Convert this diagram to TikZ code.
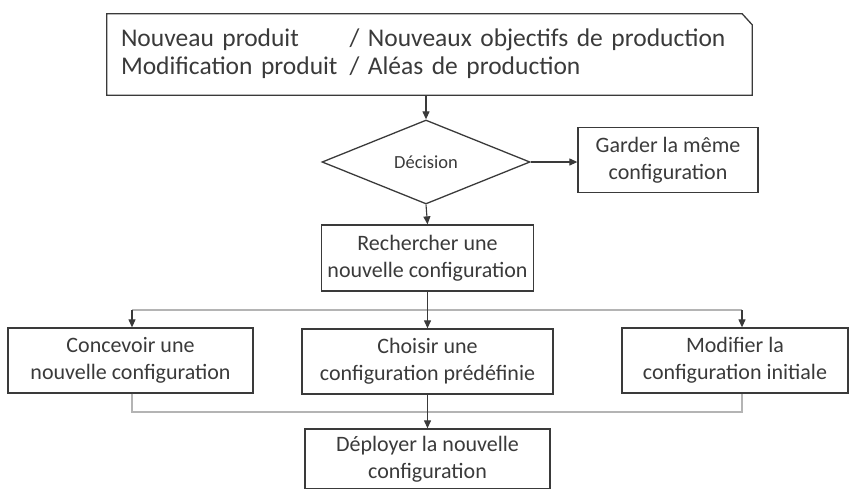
\documentclass[tikz,border=0pt]{standalone}
\usepackage{fontspec}
\setmainfont{Carlito}
\usepackage{xcolor}
\usetikzlibrary{calc,shapes.geometric,arrows.meta}

\definecolor{ink}{HTML}{3A3A3A}
\definecolor{wire}{HTML}{B4B4B4}

\begin{document}
\begin{tikzpicture}[x=1pt,y=-1pt,
  every node/.style={text=ink},
  boite/.style={draw=ink,line width=1.3pt,align=center,inner sep=0pt,
    font=\fontsize{22}{27}\selectfont},
  fleche/.style={draw=ink,line width=1.1pt,-{Triangle[length=8pt,width=7pt]}},
  fil/.style={draw=wire,line width=1.6pt}]

\useasboundingbox (0,0) rectangle (850,488);

% entree
\node (entree) [inner sep=0pt,minimum width=645pt,minimum height=81pt,
  text width=617pt,font=\fontsize{25.5}{28}\selectfont] at (429.5,54.5)
  {\begin{tabular}{@{}l@{\hspace{12pt}}l@{}}
   Nouveau produit & / Nouveaux objectifs de production\\
   Modification produit & / Aléas de production
   \end{tabular}};
\draw[ink,line width=1.3pt] (entree.south west) -- (entree.north west)
  -- ([xshift=-10pt]entree.north east) -- ([yshift=-11pt]entree.north east)
  -- (entree.south east) -- cycle;

% decision
\node (decision) [draw=ink,line width=1.3pt,diamond,aspect=2.5,inner sep=0pt,
  minimum width=208pt,minimum height=84pt,font=\fontsize{18.5}{22}\selectfont]
  at (426,162) {Décision};
\node (garder) [boite,minimum width=180pt,minimum height=65pt] at (668,160)
  {Garder la même\\configuration};
\node (recherche) [boite,minimum width=212pt,minimum height=66pt] at (427.5,258)
  {Rechercher une\\nouvelle configuration};

% trois voies
\node (concevoir) [boite,minimum width=245pt,minimum height=65pt] at (130.5,360.5)
  {Concevoir une\\nouvelle configuration};
\node (choisir) [boite,minimum width=251pt,minimum height=65pt] at (427.5,361.5)
  {Choisir une\\configuration prédéfinie};
\node (modifier) [boite,minimum width=226pt,minimum height=65pt] at (735,360.5)
  {Modifier la\\configuration initiale};
\node (deployer) [boite,minimum width=245pt,minimum height=60pt] at (427.5,459)
  {Déployer la nouvelle\\configuration};

\coordinate (fourche) at (427,310);
\coordinate (gauche) at (132,310);
\coordinate (droite) at (742,310);
\coordinate (jonction) at (427,412);

% connecteurs
\draw[fleche] (entree.south -| decision.north) -- (decision.north);
\draw[fleche] (decision.east) -- (decision.east -| garder.west);
\draw[fleche] (decision.south) -- (recherche.north);
\draw[fil] (gauche) -- (droite);
\draw[fleche] (recherche.south) -- (choisir.north);
\draw[fleche] (gauche) -- (gauche |- concevoir.north);
\draw[fleche] (droite) -- (droite |- modifier.north);
\draw[fil] (gauche |- concevoir.south) |- (jonction) -| (droite |- modifier.south);
\draw[fleche] (choisir.south) -- (deployer.north);
\end{tikzpicture}
\end{document}
